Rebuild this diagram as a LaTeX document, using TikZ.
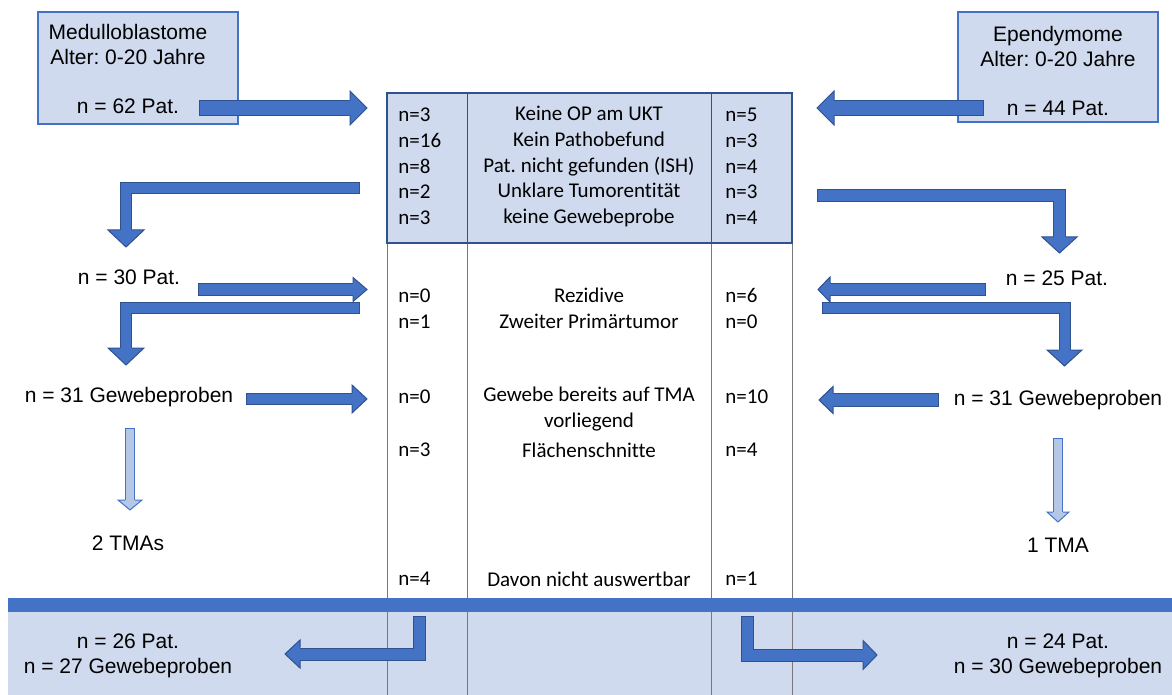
\documentclass[tikz,border=0pt]{standalone}
\usepackage{fontspec}
\setmainfont{Liberation Sans}
\newfontfamily\calibri[Ligatures = NoCommon]{Carlito}
\frenchspacing
\definecolor{boxfill}{RGB}{207,218,238}
\definecolor{boxline}{RGB}{68,114,196}
\definecolor{tabline}{RGB}{47,82,143}
\definecolor{arrowfill}{RGB}{68,114,196}
\definecolor{arrowline}{RGB}{47,82,143}
\definecolor{lightfill}{RGB}{180,199,231}
\definecolor{gridgray}{RGB}{120,120,120}
\tikzset{every node/.style = {inner sep = 0pt, font = \fontsize{10.5}{12.25}\selectfont},
         infobox/.style = {draw = boxline, fill = boxfill, line width = 0.75pt},
         plain/.style = {align = center},
         ncount/.style = {anchor = west, align = left,
                          font = \calibri\fontsize{10.5}{12.85}\selectfont},
         reason/.style = {align = center,
                          font = \calibri\fontsize{10.5}{12.85}\selectfont},
         shaft/.style = {draw = arrowline, line width = 0.5pt, double = arrowfill,
                         double distance = #1, line cap = rect, line join = miter,
                         shorten <=#1/2, shorten >=#1/2},
         thinshaft/.style = {shaft = #1, draw = boxline, double = lightfill},
         pics/bhead/.style n args = {3}{code = {
           \path[pic actions, draw = none] (0,-#2) -- (#3,0) -- (0,#2) -- cycle;
           \path[pic actions, fill = none, line width = 0.5pt, line join = miter]
             (0,-#1) -- (0,-#2) -- (#3,0) -- (0,#2) -- (0,#1);}}}

\begin{document}
\begin{tikzpicture}[x = 0.5pt, y = -0.5pt]
        \useasboundingbox (0,0) rectangle (1172,695);

        \node[infobox, minimum width = 100pt, minimum height = 56pt] (medbox) at (138,68) {};
        \node[plain] (med) at (128,69) {Medulloblastome\\Alter: 0-20 Jahre\\[12.25pt]n = 62 Pat.};
        \node[infobox, minimum width = 100pt, minimum height = 55pt] (epbox) at (1058,67) {};
        \node[plain] (ep) at (1058,71) {Ependymome\\Alter: 0-20 Jahre\\[12.25pt]n = 44 Pat.};

        \node[draw = tabline, fill = boxfill, line width = 1pt,
              minimum width = 202.5pt, minimum height = 75pt] (excl) at (589.5,168) {};
        \foreach \x in {467,711}
          \draw[tabline, line width = 0.5pt] (\x,93) -- (\x,243);

        \fill[boxfill] (8,612) rectangle (1172,695);
        \foreach \x in {387,467,711,792}
          \draw[gridgray, line width = 0.5pt] (\x,244) -- (\x,695);
        \fill[arrowfill] (8,598) rectangle (1172,612);

        \node[ncount] (exclL) at (398,166.5) {n=3\\n=16\\n=8\\n=2\\n=3};
        \node[reason] (exclM) at (589,166.5) {Keine OP am UKT\\Kein Pathobefund\\Pat. nicht gefunden (ISH)\\Unklare Tumorentität\\keine Gewebeprobe};
        \node[ncount] (exclR) at (725,166.5) {n=5\\n=3\\n=4\\n=3\\n=4};

        \node[ncount] (rezL) at (398,308.5) {n=0\\n=1};
        \node[reason] (rezM) at (589,308.5) {Rezidive\\Zweiter Primärtumor};
        \node[ncount] (rezR) at (725,308.5) {n=6\\n=0};

        \node[ncount] (tmaL) at (398,397) {n=0};
        \node[reason] (tmaM) at (589,409) {Gewebe bereits auf TMA\\vorliegend};
        \node[ncount] (tmaR) at (725,397) {n=10};
        \node[ncount] (flL) at (398,450) {n=3};
        \node[reason] (flM) at (589,450) {Flächenschnitte};
        \node[ncount] (flR) at (725,450) {n=4};
        \node[ncount] (davL) at (398,579) {n=4};
        \node[reason] (davM) at (589,579) {Davon nicht auswertbar};
        \node[ncount] (davR) at (725,579) {n=1};

        \node (n30) at (129,277) {n = 30 Pat.};
        \node (g31L) at (129,397) {n = 31 Gewebeproben};
        \node (tma2) at (128,543) {2 TMAs};
        \node (n25) at (1057,278) {n = 25 Pat.};
        \node (g31R) at (1058,400) {n = 31 Gewebeproben};
        \node (tma1) at (1058,545) {1 TMA};
        \node[plain] (sumL) at (128,656) {n = 26 Pat.\\n = 27 Gewebeproben};
        \node[plain] (sumR) at (1058,656) {n = 24 Pat.\\n = 30 Gewebeproben};

        \coordinate (a1s) at (200,108);    \coordinate (a1h) at (350,108);
        \coordinate (a2s) at (983,108);    \coordinate (a2h) at (834,108);
        \coordinate (l1s) at (359,188.5);  \coordinate (l1h) at (126,230);
        \coordinate (a3s) at (199,289.5);  \coordinate (a3h) at (353,289.5);
        \coordinate (l2s) at (359,307.5);  \coordinate (l2h) at (126,348);
        \coordinate (a4s) at (247,399);    \coordinate (a4h) at (352,399);
        \coordinate (d1s) at (130,429);    \coordinate (d1h) at (130,500);
        \coordinate (l3s) at (818,195.5);  \coordinate (l3h) at (1059.5,237);
        \coordinate (a5s) at (985,289.5);  \coordinate (a5h) at (830,289.5);
        \coordinate (l4s) at (823,307.5);  \coordinate (l4h) at (1064.5,350);
        \coordinate (a6s) at (938,400);    \coordinate (a6h) at (833,400);
        \coordinate (d2s) at (1058,439);   \coordinate (d2h) at (1058,512);
        \coordinate (b1s) at (419.5,617);  \coordinate (b1h) at (300,654);
        \coordinate (b2s) at (747.5,617);  \coordinate (b2h) at (863,655);

        \draw[shaft = 7pt] (a1s) -- (a1h);
        \pic[fill = arrowfill, draw = arrowline] at (a1h) {bhead={8}{17}{17}};
        \draw[shaft = 7pt] (a2s) -- (a2h);
        \pic[rotate = 180, fill = arrowfill, draw = arrowline] at (a2h) {bhead={8}{17}{17}};
        \draw[shaft = 5pt] (l1s) -| (l1h);
        \pic[rotate = -90, fill = arrowfill, draw = arrowline] at (l1h) {bhead={6}{18}{17}};
        \draw[shaft = 5.5pt] (a3s) -- (a3h);
        \pic[fill = arrowfill, draw = arrowline] at (a3h) {bhead={6.5}{12}{14}};
        \draw[shaft = 5pt] (l2s) -| (l2h);
        \pic[rotate = -90, fill = arrowfill, draw = arrowline] at (l2h) {bhead={6}{18}{17}};
        \draw[shaft = 5pt] (a4s) -- (a4h);
        \pic[fill = arrowfill, draw = arrowline] at (a4h) {bhead={6}{14}{15}};
        \draw[thinshaft = 4pt] (d1s) -- (d1h);
        \pic[rotate = -90, fill = lightfill, draw = boxline] at (d1h) {bhead={5}{12}{10}};

        \draw[shaft = 5.5pt] (l3s) -| (l3h);
        \pic[rotate = -90, fill = arrowfill, draw = arrowline] at (l3h) {bhead={6.5}{17.5}{16}};
        \draw[shaft = 5.5pt] (a5s) -- (a5h);
        \pic[rotate = 180, fill = arrowfill, draw = arrowline] at (a5h) {bhead={6.5}{12.5}{12}};
        \draw[shaft = 5pt] (l4s) -| (l4h);
        \pic[rotate = -90, fill = arrowfill, draw = arrowline] at (l4h) {bhead={6}{17.5}{16}};
        \draw[shaft = 6pt] (a6s) -- (a6h);
        \pic[rotate = 180, fill = arrowfill, draw = arrowline] at (a6h) {bhead={7}{13.5}{14}};
        \draw[thinshaft = 4pt] (d2s) -- (d2h);
        \pic[rotate = -90, fill = lightfill, draw = boxline] at (d2h) {bhead={5}{11}{10}};

        \draw[shaft = 5.5pt] (b1s) |- (b1h);
        \pic[rotate = 180, fill = arrowfill, draw = arrowline] at (b1h) {bhead={6.5}{14}{15}};
        \draw[shaft = 5.5pt] (b2s) |- (b2h);
        \pic[fill = arrowfill, draw = arrowline] at (b2h) {bhead={6.5}{14.5}{14}};
\end{tikzpicture}
\end{document}
